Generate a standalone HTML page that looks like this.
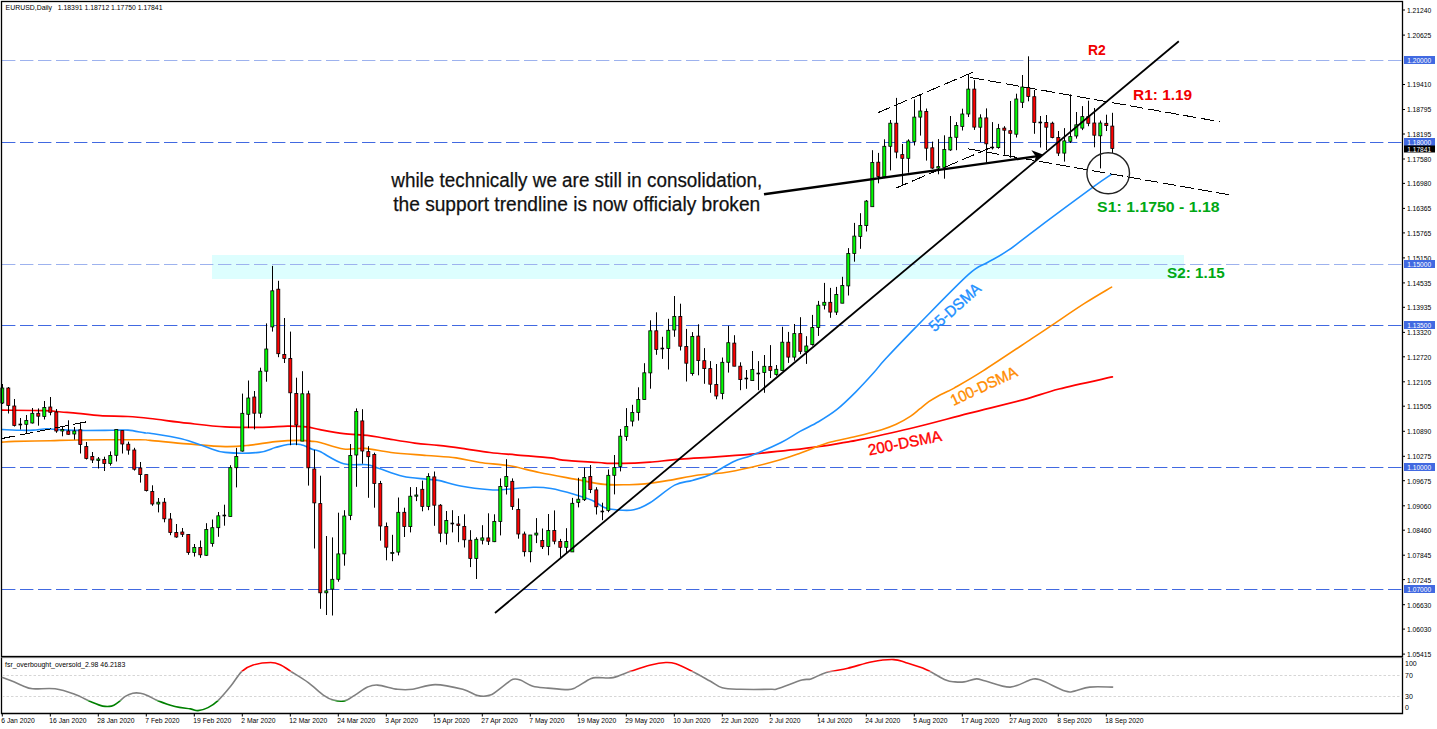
<!DOCTYPE html><html><head><meta charset="utf-8"><style>html,body{margin:0;padding:0;background:#fff;font-family:"Liberation Sans",sans-serif;}svg{display:block}</style></head><body>
<svg width="1437" height="729" viewBox="0 0 1437 729" font-family="&quot;Liberation Sans&quot;, sans-serif">
<rect x="0" y="0" width="1437" height="729" fill="#fff"/>
<rect x="212" y="255" width="972" height="24" fill="#ddfefe"/>
<line x1="2" y1="60.5" x2="1402" y2="60.5" stroke="#9db2ee" stroke-width="1" stroke-dasharray="13.4 4.6"/>
<line x1="2" y1="142.5" x2="1402" y2="142.5" stroke="#4169e1" stroke-width="1" stroke-dasharray="13.4 4.6"/>
<line x1="2" y1="264.5" x2="1402" y2="264.5" stroke="#9db2ee" stroke-width="1" stroke-dasharray="13.4 4.6"/>
<line x1="2" y1="325.5" x2="1402" y2="325.5" stroke="#4169e1" stroke-width="1" stroke-dasharray="13.4 4.6"/>
<line x1="2" y1="467.5" x2="1402" y2="467.5" stroke="#4169e1" stroke-width="1" stroke-dasharray="13.4 4.6"/>
<line x1="2" y1="589.5" x2="1402" y2="589.5" stroke="#4169e1" stroke-width="1" stroke-dasharray="13.4 4.6"/>
<path d="M2.20,410.20 C9.25,410.27 34.67,410.30 44.50,410.60 C54.33,410.90 55.62,411.53 61.20,412.00 C66.78,412.47 71.50,412.80 78.00,413.40 C84.50,414.00 91.87,415.08 100.20,415.60 C108.53,416.12 119.70,416.02 128.00,416.50 C136.30,416.98 140.07,417.38 150.00,418.50 C159.93,419.62 175.07,421.80 187.60,423.20 C200.13,424.60 212.67,426.22 225.20,426.90 C237.73,427.58 252.37,427.43 262.80,427.30 C273.23,427.17 280.50,426.17 287.80,426.10 C295.10,426.03 301.23,426.30 306.60,426.90 C311.97,427.50 313.82,428.58 320.00,429.70 C326.18,430.82 335.82,432.65 343.70,433.60 C351.58,434.55 360.40,434.62 367.30,435.40 C374.20,436.18 377.20,437.02 385.10,438.30 C393.00,439.58 405.83,441.92 414.70,443.10 C423.57,444.28 430.42,444.52 438.30,445.40 C446.18,446.28 453.38,447.22 462.00,448.40 C470.62,449.58 481.08,451.43 490.00,452.50 C498.92,453.57 505.33,453.92 515.50,454.80 C525.67,455.68 543.12,456.92 551.00,457.80 C558.88,458.68 554.92,459.32 562.80,460.10 C570.68,460.88 590.40,461.95 598.30,462.50 C606.20,463.05 604.28,463.30 610.20,463.40 C616.12,463.50 627.17,463.30 633.80,463.10 C640.43,462.90 642.22,462.87 650.00,462.20 C657.78,461.53 669.50,459.98 680.50,459.10 C691.50,458.22 704.17,457.73 716.00,456.90 C727.83,456.07 739.67,455.18 751.50,454.10 C763.33,453.02 778.92,451.23 787.00,450.40 C795.08,449.57 795.33,449.63 800.00,449.10 C804.67,448.57 809.83,447.90 815.00,447.20 C820.17,446.50 826.00,445.70 831.00,444.90 C836.00,444.10 840.17,443.27 845.00,442.40 C849.83,441.53 848.45,442.18 860.00,439.70 C871.55,437.22 896.20,431.88 914.30,427.50 C932.40,423.12 950.52,418.00 968.60,413.40 C986.68,408.80 1007.73,403.97 1022.80,399.90 C1037.87,395.83 1044.07,392.83 1059.00,389.00 C1073.93,385.17 1103.50,378.92 1112.40,376.90" fill="none" stroke="#ff0000" stroke-width="1.7" stroke-linejoin="round" stroke-linecap="round"/>
<path d="M2.20,442.10 C4.25,441.98 6.52,441.63 14.50,441.40 C22.48,441.17 39.52,440.93 50.10,440.70 C60.68,440.47 63.15,440.17 78.00,440.00 C92.85,439.83 127.20,439.63 139.20,439.70 C151.20,439.77 141.93,439.70 150.00,440.40 C158.07,441.10 175.07,442.87 187.60,443.90 C200.13,444.93 214.75,446.40 225.20,446.60 C235.65,446.80 241.95,445.93 250.30,445.10 C258.65,444.27 266.95,442.38 275.30,441.60 C283.65,440.82 294.13,440.43 300.40,440.40 C306.67,440.37 309.63,441.05 312.90,441.40 C316.17,441.75 314.87,441.23 320.00,442.50 C325.13,443.77 336.20,448.02 343.70,449.00 C351.20,449.98 357.12,447.82 365.00,448.40 C372.88,448.98 380.75,451.32 391.00,452.50 C401.25,453.68 415.65,454.60 426.50,455.50 C437.35,456.40 447.18,456.73 456.10,457.90 C465.02,459.07 471.08,461.18 480.00,462.50 C488.92,463.82 499.73,464.13 509.60,465.80 C519.47,467.47 528.35,470.28 539.20,472.50 C550.05,474.72 563.85,477.12 574.70,479.10 C585.55,481.08 595.43,483.47 604.30,484.40 C613.17,485.33 621.12,484.78 627.90,484.70 C634.68,484.62 638.20,484.62 645.00,483.90 C651.80,483.18 659.82,481.88 668.70,480.40 C677.58,478.92 689.43,476.23 698.30,475.00 C707.17,473.77 713.03,474.28 721.90,473.00 C730.77,471.72 741.63,469.53 751.50,467.30 C761.37,465.07 773.22,461.87 781.10,459.60 C788.98,457.33 793.48,455.60 798.80,453.70 C804.12,451.80 807.65,450.13 813.00,448.20 C818.35,446.27 823.80,444.05 830.90,442.10 C838.00,440.15 847.13,438.57 855.60,436.50 C864.07,434.43 874.93,431.73 881.70,429.70 C888.47,427.67 891.37,426.57 896.20,424.30 C901.03,422.03 906.78,418.67 910.70,416.10 C914.62,413.53 916.68,411.30 919.70,408.90 C922.72,406.50 925.78,403.82 928.80,401.70 C931.82,399.58 934.80,397.87 937.80,396.20 C940.80,394.53 944.08,393.05 946.80,391.70 C949.52,390.35 948.07,391.57 954.10,388.10 C960.13,384.63 970.12,379.10 983.00,370.90 C995.88,362.70 1019.77,346.62 1031.40,338.90 C1043.03,331.18 1043.88,330.55 1052.80,324.60 C1061.72,318.65 1075.10,309.45 1084.90,303.20 C1094.70,296.95 1107.15,289.78 1111.60,287.10" fill="none" stroke="#ff8c00" stroke-width="1.6" stroke-linejoin="round" stroke-linecap="round"/>
<path d="M2.20,429.50 C5.55,429.63 17.10,430.20 22.30,430.30 C27.50,430.40 29.32,430.37 33.40,430.10 C37.48,429.83 43.08,428.80 46.80,428.70 C50.52,428.60 50.50,429.22 55.70,429.50 C60.90,429.78 68.72,430.27 78.00,430.40 C87.28,430.53 103.07,430.35 111.40,430.30 C119.73,430.25 122.43,429.67 128.00,430.10 C133.57,430.53 141.13,432.38 144.80,432.90 C148.47,433.42 143.92,432.22 150.00,433.20 C156.08,434.18 171.90,436.50 181.30,438.80 C190.70,441.10 199.08,444.73 206.40,447.00 C213.72,449.27 216.43,451.50 225.20,452.40 C233.97,453.30 250.65,453.20 259.00,452.40 C267.35,451.60 270.50,448.92 275.30,447.60 C280.10,446.28 283.62,445.02 287.80,444.50 C291.98,443.98 296.22,443.67 300.40,444.50 C304.58,445.33 309.63,448.32 312.90,449.50 C316.17,450.68 314.87,449.22 320.00,451.60 C325.13,453.98 335.82,461.62 343.70,463.80 C351.58,465.98 361.38,463.92 367.30,464.70 C373.22,465.48 373.28,466.58 379.20,468.50 C385.12,470.42 394.92,474.42 402.80,476.20 C410.68,477.98 420.58,478.50 426.50,479.20 C432.42,479.90 432.38,479.22 438.30,480.40 C444.22,481.58 453.38,484.73 462.00,486.30 C470.62,487.87 483.45,489.23 490.00,489.80 C496.55,490.37 494.08,490.12 501.30,489.70 C508.52,489.28 525.02,487.50 533.30,487.30 C541.58,487.10 544.10,487.32 551.00,488.50 C557.90,489.68 567.80,492.42 574.70,494.40 C581.60,496.38 587.47,498.22 592.40,500.40 C597.33,502.58 600.35,505.93 604.30,507.50 C608.25,509.07 611.18,509.42 616.10,509.80 C621.02,510.18 628.15,510.98 633.80,509.80 C639.45,508.62 643.20,506.82 650.00,502.70 C656.80,498.58 667.55,488.82 674.60,485.10 C681.65,481.38 686.38,482.13 692.30,480.40 C698.22,478.67 703.18,477.87 710.10,474.70 C717.02,471.53 726.90,464.60 733.80,461.40 C740.70,458.20 743.62,458.65 751.50,455.50 C759.38,452.35 773.02,446.52 781.10,442.50 C789.18,438.48 793.77,434.87 800.00,431.40 C806.23,427.93 812.33,425.37 818.50,421.70 C824.67,418.03 830.82,414.33 837.00,409.40 C843.18,404.47 849.42,398.28 855.60,392.10 C861.78,385.92 869.13,377.82 874.10,372.30 C879.07,366.78 877.73,367.23 885.40,359.00 C893.07,350.77 906.28,336.95 920.10,322.90 C933.92,308.85 957.15,284.73 968.30,274.70 C979.45,264.67 980.32,266.78 987.00,262.70 C993.68,258.62 998.13,257.35 1008.40,250.20 C1018.67,243.05 1034.33,230.43 1048.60,219.80 C1062.87,209.17 1083.53,193.97 1094.00,186.40 C1104.47,178.83 1108.50,176.40 1111.40,174.40" fill="none" stroke="#1e90ff" stroke-width="1.6" stroke-linejoin="round" stroke-linecap="round"/>
<line x1="2.50" y1="384.0" x2="2.50" y2="404.0" stroke="#000" stroke-width="1"/>
<rect x="0.80" y="388.0" width="3" height="15.00" fill="#00ff00" stroke="#000" stroke-width="0.8"/>
<line x1="8.50" y1="387.0" x2="8.50" y2="413.5" stroke="#000" stroke-width="1"/>
<rect x="6.80" y="388.0" width="3" height="17.50" fill="#ff0000" stroke="#000" stroke-width="0.8"/>
<line x1="14.50" y1="399.0" x2="14.50" y2="426.5" stroke="#000" stroke-width="1"/>
<rect x="12.80" y="406.0" width="3" height="19.50" fill="#ff0000" stroke="#000" stroke-width="0.8"/>
<line x1="20.50" y1="418.0" x2="20.50" y2="429.5" stroke="#000" stroke-width="1"/>
<line x1="18.50" y1="424.5" x2="22.10" y2="424.5" stroke="#000" stroke-width="1.6"/>
<line x1="26.50" y1="415.0" x2="26.50" y2="434.0" stroke="#000" stroke-width="1"/>
<rect x="24.80" y="420.5" width="3" height="3.80" fill="#00ff00" stroke="#000" stroke-width="0.8"/>
<line x1="32.50" y1="408.0" x2="32.50" y2="423.5" stroke="#000" stroke-width="1"/>
<rect x="30.80" y="413.3" width="3" height="9.70" fill="#00ff00" stroke="#000" stroke-width="0.8"/>
<line x1="38.50" y1="408.4" x2="38.50" y2="425.7" stroke="#000" stroke-width="1"/>
<rect x="36.80" y="413.3" width="3" height="2.90" fill="#ff0000" stroke="#000" stroke-width="0.8"/>
<line x1="44.50" y1="401.0" x2="44.50" y2="419.5" stroke="#000" stroke-width="1"/>
<rect x="42.80" y="407.5" width="3" height="9.00" fill="#00ff00" stroke="#000" stroke-width="0.8"/>
<line x1="50.50" y1="397.0" x2="50.50" y2="415.3" stroke="#000" stroke-width="1"/>
<rect x="48.80" y="407.0" width="3" height="5.30" fill="#ff0000" stroke="#000" stroke-width="0.8"/>
<line x1="56.50" y1="409.0" x2="56.50" y2="432.8" stroke="#000" stroke-width="1"/>
<rect x="54.80" y="412.0" width="3" height="19.00" fill="#ff0000" stroke="#000" stroke-width="0.8"/>
<line x1="62.50" y1="426.3" x2="62.50" y2="436.3" stroke="#000" stroke-width="1"/>
<rect x="60.80" y="429.5" width="3" height="1.50" fill="#00ff00" stroke="#000" stroke-width="0.8"/>
<line x1="68.50" y1="420.3" x2="68.50" y2="434.7" stroke="#000" stroke-width="1"/>
<rect x="66.80" y="431.0" width="3" height="3.30" fill="#ff0000" stroke="#000" stroke-width="0.8"/>
<line x1="74.50" y1="427.0" x2="74.50" y2="439.6" stroke="#000" stroke-width="1"/>
<rect x="72.80" y="431.0" width="3" height="3.00" fill="#00ff00" stroke="#000" stroke-width="0.8"/>
<line x1="80.50" y1="423.2" x2="80.50" y2="453.5" stroke="#000" stroke-width="1"/>
<rect x="78.80" y="429.8" width="3" height="14.70" fill="#ff0000" stroke="#000" stroke-width="0.8"/>
<line x1="86.50" y1="442.0" x2="86.50" y2="459.5" stroke="#000" stroke-width="1"/>
<rect x="84.80" y="446.5" width="3" height="12.00" fill="#ff0000" stroke="#000" stroke-width="0.8"/>
<line x1="92.50" y1="452.0" x2="92.50" y2="463.0" stroke="#000" stroke-width="1"/>
<rect x="90.80" y="456.5" width="3" height="3.50" fill="#ff0000" stroke="#000" stroke-width="0.8"/>
<line x1="98.50" y1="457.0" x2="98.50" y2="468.5" stroke="#000" stroke-width="1"/>
<rect x="96.80" y="459.0" width="3" height="1.50" fill="#00ff00" stroke="#000" stroke-width="0.8"/>
<line x1="104.50" y1="456.7" x2="104.50" y2="471.0" stroke="#000" stroke-width="1"/>
<rect x="102.80" y="459.4" width="3" height="4.10" fill="#ff0000" stroke="#000" stroke-width="0.8"/>
<line x1="110.50" y1="451.4" x2="110.50" y2="465.6" stroke="#000" stroke-width="1"/>
<rect x="108.80" y="455.5" width="3" height="8.00" fill="#00ff00" stroke="#000" stroke-width="0.8"/>
<line x1="116.50" y1="429.1" x2="116.50" y2="461.5" stroke="#000" stroke-width="1"/>
<rect x="114.80" y="429.4" width="3" height="25.90" fill="#00ff00" stroke="#000" stroke-width="0.8"/>
<line x1="122.50" y1="430.6" x2="122.50" y2="453.5" stroke="#000" stroke-width="1"/>
<rect x="120.80" y="430.6" width="3" height="13.40" fill="#ff0000" stroke="#000" stroke-width="0.8"/>
<line x1="128.50" y1="441.7" x2="128.50" y2="454.7" stroke="#000" stroke-width="1"/>
<rect x="126.80" y="444.2" width="3" height="5.90" fill="#ff0000" stroke="#000" stroke-width="0.8"/>
<line x1="134.50" y1="447.8" x2="134.50" y2="470.6" stroke="#000" stroke-width="1"/>
<rect x="132.80" y="450.0" width="3" height="19.20" fill="#ff0000" stroke="#000" stroke-width="0.8"/>
<line x1="140.50" y1="462.0" x2="140.50" y2="482.6" stroke="#000" stroke-width="1"/>
<rect x="138.80" y="468.0" width="3" height="6.60" fill="#ff0000" stroke="#000" stroke-width="0.8"/>
<line x1="146.50" y1="474.6" x2="146.50" y2="491.5" stroke="#000" stroke-width="1"/>
<rect x="144.80" y="474.6" width="3" height="16.00" fill="#ff0000" stroke="#000" stroke-width="0.8"/>
<line x1="152.50" y1="485.3" x2="152.50" y2="505.8" stroke="#000" stroke-width="1"/>
<rect x="150.80" y="491.5" width="3" height="12.50" fill="#ff0000" stroke="#000" stroke-width="0.8"/>
<line x1="158.50" y1="498.0" x2="158.50" y2="512.4" stroke="#000" stroke-width="1"/>
<rect x="156.80" y="502.2" width="3" height="1.80" fill="#00ff00" stroke="#000" stroke-width="0.8"/>
<line x1="164.50" y1="498.0" x2="164.50" y2="522.3" stroke="#000" stroke-width="1"/>
<rect x="162.80" y="502.2" width="3" height="16.60" fill="#ff0000" stroke="#000" stroke-width="0.8"/>
<line x1="170.50" y1="513.0" x2="170.50" y2="535.2" stroke="#000" stroke-width="1"/>
<rect x="168.80" y="519.0" width="3" height="13.50" fill="#ff0000" stroke="#000" stroke-width="0.8"/>
<line x1="176.50" y1="524.0" x2="176.50" y2="537.8" stroke="#000" stroke-width="1"/>
<rect x="174.80" y="532.5" width="3" height="4.50" fill="#ff0000" stroke="#000" stroke-width="0.8"/>
<line x1="182.50" y1="528.0" x2="182.50" y2="537.0" stroke="#000" stroke-width="1"/>
<rect x="180.80" y="532.0" width="3" height="2.30" fill="#ff0000" stroke="#000" stroke-width="0.8"/>
<line x1="188.50" y1="534.3" x2="188.50" y2="554.8" stroke="#000" stroke-width="1"/>
<rect x="186.80" y="534.6" width="3" height="18.00" fill="#ff0000" stroke="#000" stroke-width="0.8"/>
<line x1="194.50" y1="544.0" x2="194.50" y2="556.6" stroke="#000" stroke-width="1"/>
<rect x="192.80" y="547.5" width="3" height="5.10" fill="#00ff00" stroke="#000" stroke-width="0.8"/>
<line x1="200.50" y1="540.5" x2="200.50" y2="557.8" stroke="#000" stroke-width="1"/>
<rect x="198.80" y="547.4" width="3" height="7.40" fill="#ff0000" stroke="#000" stroke-width="0.8"/>
<line x1="206.50" y1="523.2" x2="206.50" y2="555.8" stroke="#000" stroke-width="1"/>
<rect x="204.80" y="529.4" width="3" height="25.90" fill="#00ff00" stroke="#000" stroke-width="0.8"/>
<line x1="212.50" y1="519.5" x2="212.50" y2="546.7" stroke="#000" stroke-width="1"/>
<rect x="210.80" y="527.7" width="3" height="15.80" fill="#00ff00" stroke="#000" stroke-width="0.8"/>
<line x1="218.50" y1="512.0" x2="218.50" y2="536.8" stroke="#000" stroke-width="1"/>
<rect x="216.80" y="515.8" width="3" height="11.90" fill="#00ff00" stroke="#000" stroke-width="0.8"/>
<line x1="224.50" y1="504.7" x2="224.50" y2="525.7" stroke="#000" stroke-width="1"/>
<line x1="222.50" y1="515.5" x2="226.10" y2="515.5" stroke="#000" stroke-width="1.6"/>
<line x1="230.50" y1="465.2" x2="230.50" y2="516.5" stroke="#000" stroke-width="1"/>
<rect x="228.80" y="467.7" width="3" height="48.80" fill="#00ff00" stroke="#000" stroke-width="0.8"/>
<line x1="236.50" y1="447.9" x2="236.50" y2="487.4" stroke="#000" stroke-width="1"/>
<rect x="234.80" y="456.5" width="3" height="11.20" fill="#00ff00" stroke="#000" stroke-width="0.8"/>
<line x1="242.50" y1="393.6" x2="242.50" y2="451.6" stroke="#000" stroke-width="1"/>
<rect x="240.80" y="413.3" width="3" height="37.80" fill="#00ff00" stroke="#000" stroke-width="0.8"/>
<line x1="248.50" y1="380.5" x2="248.50" y2="428.1" stroke="#000" stroke-width="1"/>
<rect x="246.80" y="398.0" width="3" height="16.30" fill="#00ff00" stroke="#000" stroke-width="0.8"/>
<line x1="254.50" y1="391.0" x2="254.50" y2="429.4" stroke="#000" stroke-width="1"/>
<rect x="252.80" y="397.0" width="3" height="16.20" fill="#ff0000" stroke="#000" stroke-width="0.8"/>
<line x1="260.50" y1="367.7" x2="260.50" y2="417.8" stroke="#000" stroke-width="1"/>
<rect x="258.80" y="371.2" width="3" height="42.00" fill="#00ff00" stroke="#000" stroke-width="0.8"/>
<line x1="266.50" y1="323.4" x2="266.50" y2="381.7" stroke="#000" stroke-width="1"/>
<rect x="264.80" y="349.0" width="3" height="22.20" fill="#00ff00" stroke="#000" stroke-width="0.8"/>
<line x1="272.50" y1="265.9" x2="272.50" y2="331.6" stroke="#000" stroke-width="1"/>
<rect x="270.80" y="290.8" width="3" height="36.10" fill="#00ff00" stroke="#000" stroke-width="0.8"/>
<line x1="278.50" y1="280.8" x2="278.50" y2="357.2" stroke="#000" stroke-width="1"/>
<rect x="276.80" y="289.2" width="3" height="64.50" fill="#ff0000" stroke="#000" stroke-width="0.8"/>
<line x1="284.50" y1="318.0" x2="284.50" y2="363.0" stroke="#000" stroke-width="1"/>
<rect x="282.80" y="354.4" width="3" height="4.00" fill="#ff0000" stroke="#000" stroke-width="0.8"/>
<line x1="290.50" y1="331.6" x2="290.50" y2="445.2" stroke="#000" stroke-width="1"/>
<rect x="288.80" y="358.4" width="3" height="34.40" fill="#ff0000" stroke="#000" stroke-width="0.8"/>
<line x1="296.50" y1="377.7" x2="296.50" y2="445.2" stroke="#000" stroke-width="1"/>
<rect x="294.80" y="393.4" width="3" height="31.60" fill="#ff0000" stroke="#000" stroke-width="0.8"/>
<line x1="302.50" y1="371.2" x2="302.50" y2="441.1" stroke="#000" stroke-width="1"/>
<rect x="300.80" y="393.8" width="3" height="47.30" fill="#00ff00" stroke="#000" stroke-width="0.8"/>
<line x1="308.50" y1="390.7" x2="308.50" y2="485.6" stroke="#000" stroke-width="1"/>
<rect x="306.80" y="393.8" width="3" height="74.00" fill="#ff0000" stroke="#000" stroke-width="0.8"/>
<line x1="314.50" y1="449.9" x2="314.50" y2="548.5" stroke="#000" stroke-width="1"/>
<rect x="312.80" y="469.0" width="3" height="33.90" fill="#ff0000" stroke="#000" stroke-width="0.8"/>
<line x1="320.50" y1="475.7" x2="320.50" y2="608.8" stroke="#000" stroke-width="1"/>
<rect x="318.80" y="503.6" width="3" height="89.20" fill="#ff0000" stroke="#000" stroke-width="0.8"/>
<line x1="326.50" y1="536.0" x2="326.50" y2="615.0" stroke="#000" stroke-width="1"/>
<rect x="324.80" y="590.9" width="3" height="1.90" fill="#00ff00" stroke="#000" stroke-width="0.8"/>
<line x1="332.50" y1="537.4" x2="332.50" y2="615.5" stroke="#000" stroke-width="1"/>
<rect x="330.80" y="579.3" width="3" height="9.80" fill="#00ff00" stroke="#000" stroke-width="0.8"/>
<line x1="338.50" y1="512.7" x2="338.50" y2="581.7" stroke="#000" stroke-width="1"/>
<rect x="336.80" y="553.9" width="3" height="25.40" fill="#00ff00" stroke="#000" stroke-width="0.8"/>
<line x1="344.50" y1="510.2" x2="344.50" y2="565.7" stroke="#000" stroke-width="1"/>
<rect x="342.80" y="516.0" width="3" height="37.90" fill="#00ff00" stroke="#000" stroke-width="0.8"/>
<line x1="350.50" y1="444.0" x2="350.50" y2="520.1" stroke="#000" stroke-width="1"/>
<rect x="348.80" y="455.4" width="3" height="60.00" fill="#00ff00" stroke="#000" stroke-width="0.8"/>
<line x1="356.50" y1="408.4" x2="356.50" y2="486.8" stroke="#000" stroke-width="1"/>
<rect x="354.80" y="411.4" width="3" height="43.60" fill="#00ff00" stroke="#000" stroke-width="0.8"/>
<line x1="362.50" y1="409.2" x2="362.50" y2="463.7" stroke="#000" stroke-width="1"/>
<rect x="360.80" y="420.9" width="3" height="30.10" fill="#ff0000" stroke="#000" stroke-width="0.8"/>
<line x1="368.50" y1="446.2" x2="368.50" y2="497.8" stroke="#000" stroke-width="1"/>
<rect x="366.80" y="451.6" width="3" height="5.10" fill="#ff0000" stroke="#000" stroke-width="0.8"/>
<line x1="374.50" y1="452.7" x2="374.50" y2="507.7" stroke="#000" stroke-width="1"/>
<rect x="372.80" y="454.5" width="3" height="29.00" fill="#ff0000" stroke="#000" stroke-width="0.8"/>
<line x1="380.50" y1="480.9" x2="380.50" y2="540.7" stroke="#000" stroke-width="1"/>
<rect x="378.80" y="483.5" width="3" height="42.50" fill="#ff0000" stroke="#000" stroke-width="0.8"/>
<line x1="386.50" y1="522.5" x2="386.50" y2="560.3" stroke="#000" stroke-width="1"/>
<rect x="384.80" y="526.5" width="3" height="20.70" fill="#ff0000" stroke="#000" stroke-width="0.8"/>
<line x1="392.50" y1="534.8" x2="392.50" y2="561.2" stroke="#000" stroke-width="1"/>
<rect x="390.80" y="552.4" width="3" height="1.00" fill="#00ff00" stroke="#000" stroke-width="0.8"/>
<line x1="398.50" y1="497.5" x2="398.50" y2="555.4" stroke="#000" stroke-width="1"/>
<rect x="396.80" y="512.3" width="3" height="39.80" fill="#00ff00" stroke="#000" stroke-width="0.8"/>
<line x1="404.50" y1="507.7" x2="404.50" y2="537.0" stroke="#000" stroke-width="1"/>
<rect x="402.80" y="512.3" width="3" height="14.30" fill="#ff0000" stroke="#000" stroke-width="0.8"/>
<line x1="410.50" y1="487.1" x2="410.50" y2="532.4" stroke="#000" stroke-width="1"/>
<rect x="408.80" y="496.2" width="3" height="30.40" fill="#00ff00" stroke="#000" stroke-width="0.8"/>
<line x1="416.50" y1="487.1" x2="416.50" y2="501.1" stroke="#000" stroke-width="1"/>
<rect x="414.80" y="495.0" width="3" height="1.20" fill="#00ff00" stroke="#000" stroke-width="0.8"/>
<line x1="422.50" y1="480.6" x2="422.50" y2="511.3" stroke="#000" stroke-width="1"/>
<rect x="420.80" y="489.3" width="3" height="17.10" fill="#ff0000" stroke="#000" stroke-width="0.8"/>
<line x1="428.50" y1="473.2" x2="428.50" y2="510.2" stroke="#000" stroke-width="1"/>
<rect x="426.80" y="476.4" width="3" height="30.00" fill="#00ff00" stroke="#000" stroke-width="0.8"/>
<line x1="434.50" y1="471.5" x2="434.50" y2="525.8" stroke="#000" stroke-width="1"/>
<rect x="432.80" y="476.9" width="3" height="28.30" fill="#ff0000" stroke="#000" stroke-width="0.8"/>
<line x1="440.50" y1="504.1" x2="440.50" y2="542.2" stroke="#000" stroke-width="1"/>
<rect x="438.80" y="505.2" width="3" height="28.00" fill="#ff0000" stroke="#000" stroke-width="0.8"/>
<line x1="446.50" y1="511.0" x2="446.50" y2="544.7" stroke="#000" stroke-width="1"/>
<rect x="444.80" y="520.5" width="3" height="12.70" fill="#00ff00" stroke="#000" stroke-width="0.8"/>
<line x1="452.50" y1="510.2" x2="452.50" y2="532.4" stroke="#000" stroke-width="1"/>
<line x1="450.50" y1="523.5" x2="454.10" y2="523.5" stroke="#000" stroke-width="1.6"/>
<line x1="458.50" y1="516.0" x2="458.50" y2="542.2" stroke="#000" stroke-width="1"/>
<rect x="456.80" y="524.0" width="3" height="1.50" fill="#ff0000" stroke="#000" stroke-width="0.8"/>
<line x1="464.50" y1="514.3" x2="464.50" y2="547.5" stroke="#000" stroke-width="1"/>
<rect x="462.80" y="526.4" width="3" height="13.40" fill="#ff0000" stroke="#000" stroke-width="0.8"/>
<line x1="470.50" y1="530.2" x2="470.50" y2="567.1" stroke="#000" stroke-width="1"/>
<rect x="468.80" y="540.2" width="3" height="18.20" fill="#ff0000" stroke="#000" stroke-width="0.8"/>
<line x1="476.50" y1="537.3" x2="476.50" y2="579.0" stroke="#000" stroke-width="1"/>
<rect x="474.80" y="539.3" width="3" height="19.10" fill="#00ff00" stroke="#000" stroke-width="0.8"/>
<line x1="482.50" y1="525.2" x2="482.50" y2="544.4" stroke="#000" stroke-width="1"/>
<rect x="480.80" y="537.9" width="3" height="2.30" fill="#00ff00" stroke="#000" stroke-width="0.8"/>
<line x1="488.50" y1="513.3" x2="488.50" y2="545.0" stroke="#000" stroke-width="1"/>
<rect x="486.80" y="537.9" width="3" height="3.30" fill="#ff0000" stroke="#000" stroke-width="0.8"/>
<line x1="494.50" y1="514.3" x2="494.50" y2="542.1" stroke="#000" stroke-width="1"/>
<rect x="492.80" y="521.4" width="3" height="20.30" fill="#00ff00" stroke="#000" stroke-width="0.8"/>
<line x1="500.50" y1="478.4" x2="500.50" y2="535.4" stroke="#000" stroke-width="1"/>
<rect x="498.80" y="486.5" width="3" height="34.90" fill="#00ff00" stroke="#000" stroke-width="0.8"/>
<line x1="506.50" y1="459.2" x2="506.50" y2="494.5" stroke="#000" stroke-width="1"/>
<rect x="504.80" y="476.5" width="3" height="10.00" fill="#00ff00" stroke="#000" stroke-width="0.8"/>
<line x1="512.50" y1="478.4" x2="512.50" y2="509.9" stroke="#000" stroke-width="1"/>
<rect x="510.80" y="481.3" width="3" height="25.30" fill="#ff0000" stroke="#000" stroke-width="0.8"/>
<line x1="518.50" y1="498.4" x2="518.50" y2="538.7" stroke="#000" stroke-width="1"/>
<rect x="516.80" y="509.5" width="3" height="24.50" fill="#ff0000" stroke="#000" stroke-width="0.8"/>
<line x1="524.50" y1="531.6" x2="524.50" y2="556.5" stroke="#000" stroke-width="1"/>
<rect x="522.80" y="534.0" width="3" height="17.70" fill="#ff0000" stroke="#000" stroke-width="0.8"/>
<line x1="530.50" y1="535.0" x2="530.50" y2="562.3" stroke="#000" stroke-width="1"/>
<rect x="528.80" y="535.0" width="3" height="16.70" fill="#00ff00" stroke="#000" stroke-width="0.8"/>
<line x1="536.50" y1="518.1" x2="536.50" y2="543.1" stroke="#000" stroke-width="1"/>
<rect x="534.80" y="533.1" width="3" height="1.90" fill="#00ff00" stroke="#000" stroke-width="0.8"/>
<line x1="542.50" y1="528.5" x2="542.50" y2="549.0" stroke="#000" stroke-width="1"/>
<rect x="540.80" y="540.5" width="3" height="6.20" fill="#ff0000" stroke="#000" stroke-width="0.8"/>
<line x1="548.50" y1="514.0" x2="548.50" y2="555.3" stroke="#000" stroke-width="1"/>
<rect x="546.80" y="530.6" width="3" height="15.90" fill="#00ff00" stroke="#000" stroke-width="0.8"/>
<line x1="554.50" y1="510.4" x2="554.50" y2="544.3" stroke="#000" stroke-width="1"/>
<rect x="552.80" y="530.6" width="3" height="10.60" fill="#ff0000" stroke="#000" stroke-width="0.8"/>
<line x1="560.50" y1="538.9" x2="560.50" y2="557.6" stroke="#000" stroke-width="1"/>
<rect x="558.80" y="541.6" width="3" height="5.70" fill="#ff0000" stroke="#000" stroke-width="0.8"/>
<line x1="566.50" y1="528.2" x2="566.50" y2="553.2" stroke="#000" stroke-width="1"/>
<rect x="564.80" y="541.6" width="3" height="5.70" fill="#00ff00" stroke="#000" stroke-width="0.8"/>
<line x1="572.50" y1="497.9" x2="572.50" y2="551.9" stroke="#000" stroke-width="1"/>
<rect x="570.80" y="503.3" width="3" height="48.60" fill="#00ff00" stroke="#000" stroke-width="0.8"/>
<line x1="578.50" y1="477.8" x2="578.50" y2="507.4" stroke="#000" stroke-width="1"/>
<rect x="576.80" y="499.2" width="3" height="3.20" fill="#00ff00" stroke="#000" stroke-width="0.8"/>
<line x1="584.50" y1="467.6" x2="584.50" y2="501.0" stroke="#000" stroke-width="1"/>
<rect x="582.80" y="477.4" width="3" height="22.30" fill="#00ff00" stroke="#000" stroke-width="0.8"/>
<line x1="590.50" y1="465.0" x2="590.50" y2="493.1" stroke="#000" stroke-width="1"/>
<rect x="588.80" y="476.5" width="3" height="13.10" fill="#ff0000" stroke="#000" stroke-width="0.8"/>
<line x1="596.50" y1="487.2" x2="596.50" y2="514.5" stroke="#000" stroke-width="1"/>
<rect x="594.80" y="489.9" width="3" height="16.90" fill="#ff0000" stroke="#000" stroke-width="0.8"/>
<line x1="602.50" y1="502.7" x2="602.50" y2="520.2" stroke="#000" stroke-width="1"/>
<line x1="600.50" y1="511.5" x2="604.10" y2="511.5" stroke="#000" stroke-width="1.6"/>
<line x1="608.50" y1="469.4" x2="608.50" y2="512.2" stroke="#000" stroke-width="1"/>
<rect x="606.80" y="475.3" width="3" height="35.10" fill="#00ff00" stroke="#000" stroke-width="0.8"/>
<line x1="614.50" y1="455.0" x2="614.50" y2="494.4" stroke="#000" stroke-width="1"/>
<rect x="612.80" y="467.6" width="3" height="7.70" fill="#00ff00" stroke="#000" stroke-width="0.8"/>
<line x1="620.50" y1="429.0" x2="620.50" y2="471.4" stroke="#000" stroke-width="1"/>
<rect x="618.80" y="436.2" width="3" height="30.20" fill="#00ff00" stroke="#000" stroke-width="0.8"/>
<line x1="626.50" y1="408.1" x2="626.50" y2="440.8" stroke="#000" stroke-width="1"/>
<rect x="624.80" y="426.4" width="3" height="10.10" fill="#00ff00" stroke="#000" stroke-width="0.8"/>
<line x1="632.50" y1="404.8" x2="632.50" y2="426.4" stroke="#000" stroke-width="1"/>
<rect x="630.80" y="412.4" width="3" height="8.70" fill="#00ff00" stroke="#000" stroke-width="0.8"/>
<line x1="638.50" y1="387.3" x2="638.50" y2="420.6" stroke="#000" stroke-width="1"/>
<rect x="636.80" y="399.5" width="3" height="12.90" fill="#00ff00" stroke="#000" stroke-width="0.8"/>
<line x1="644.50" y1="363.2" x2="644.50" y2="399.5" stroke="#000" stroke-width="1"/>
<rect x="642.80" y="372.8" width="3" height="26.70" fill="#00ff00" stroke="#000" stroke-width="0.8"/>
<line x1="650.50" y1="320.3" x2="650.50" y2="388.7" stroke="#000" stroke-width="1"/>
<rect x="648.80" y="330.8" width="3" height="42.10" fill="#00ff00" stroke="#000" stroke-width="0.8"/>
<line x1="656.50" y1="312.3" x2="656.50" y2="354.8" stroke="#000" stroke-width="1"/>
<rect x="654.80" y="330.8" width="3" height="18.60" fill="#ff0000" stroke="#000" stroke-width="0.8"/>
<line x1="662.50" y1="336.8" x2="662.50" y2="358.9" stroke="#000" stroke-width="1"/>
<line x1="660.50" y1="348.5" x2="664.10" y2="348.5" stroke="#000" stroke-width="1.6"/>
<line x1="668.50" y1="318.8" x2="668.50" y2="369.5" stroke="#000" stroke-width="1"/>
<rect x="666.80" y="330.3" width="3" height="18.10" fill="#00ff00" stroke="#000" stroke-width="0.8"/>
<line x1="674.50" y1="296.0" x2="674.50" y2="336.8" stroke="#000" stroke-width="1"/>
<rect x="672.80" y="316.4" width="3" height="13.60" fill="#00ff00" stroke="#000" stroke-width="0.8"/>
<line x1="680.50" y1="303.7" x2="680.50" y2="350.5" stroke="#000" stroke-width="1"/>
<rect x="678.80" y="316.4" width="3" height="29.80" fill="#ff0000" stroke="#000" stroke-width="0.8"/>
<line x1="686.50" y1="328.9" x2="686.50" y2="381.5" stroke="#000" stroke-width="1"/>
<rect x="684.80" y="346.5" width="3" height="16.70" fill="#ff0000" stroke="#000" stroke-width="0.8"/>
<line x1="692.50" y1="332.1" x2="692.50" y2="375.7" stroke="#000" stroke-width="1"/>
<rect x="690.80" y="336.5" width="3" height="37.10" fill="#00ff00" stroke="#000" stroke-width="0.8"/>
<line x1="698.50" y1="324.3" x2="698.50" y2="375.3" stroke="#000" stroke-width="1"/>
<rect x="696.80" y="336.1" width="3" height="24.50" fill="#ff0000" stroke="#000" stroke-width="0.8"/>
<line x1="704.50" y1="348.1" x2="704.50" y2="383.8" stroke="#000" stroke-width="1"/>
<rect x="702.80" y="360.7" width="3" height="7.90" fill="#ff0000" stroke="#000" stroke-width="0.8"/>
<line x1="710.50" y1="361.1" x2="710.50" y2="392.8" stroke="#000" stroke-width="1"/>
<rect x="708.80" y="368.6" width="3" height="15.60" fill="#ff0000" stroke="#000" stroke-width="0.8"/>
<line x1="716.50" y1="364.0" x2="716.50" y2="399.3" stroke="#000" stroke-width="1"/>
<rect x="714.80" y="384.5" width="3" height="11.50" fill="#ff0000" stroke="#000" stroke-width="0.8"/>
<line x1="722.50" y1="357.5" x2="722.50" y2="399.3" stroke="#000" stroke-width="1"/>
<rect x="720.80" y="362.3" width="3" height="31.20" fill="#00ff00" stroke="#000" stroke-width="0.8"/>
<line x1="728.50" y1="325.8" x2="728.50" y2="372.6" stroke="#000" stroke-width="1"/>
<rect x="726.80" y="342.7" width="3" height="19.60" fill="#00ff00" stroke="#000" stroke-width="0.8"/>
<line x1="734.50" y1="335.2" x2="734.50" y2="366.2" stroke="#000" stroke-width="1"/>
<rect x="732.80" y="343.1" width="3" height="23.10" fill="#ff0000" stroke="#000" stroke-width="0.8"/>
<line x1="740.50" y1="362.3" x2="740.50" y2="390.2" stroke="#000" stroke-width="1"/>
<rect x="738.80" y="366.2" width="3" height="13.40" fill="#ff0000" stroke="#000" stroke-width="0.8"/>
<line x1="746.50" y1="370.0" x2="746.50" y2="388.8" stroke="#000" stroke-width="1"/>
<line x1="744.50" y1="378.5" x2="748.10" y2="378.5" stroke="#000" stroke-width="1.6"/>
<line x1="752.50" y1="351.0" x2="752.50" y2="380.6" stroke="#000" stroke-width="1"/>
<rect x="750.80" y="369.5" width="3" height="11.10" fill="#00ff00" stroke="#000" stroke-width="0.8"/>
<line x1="758.50" y1="361.1" x2="758.50" y2="390.2" stroke="#000" stroke-width="1"/>
<line x1="756.50" y1="373.5" x2="760.10" y2="373.5" stroke="#000" stroke-width="1.6"/>
<line x1="764.50" y1="355.0" x2="764.50" y2="392.8" stroke="#000" stroke-width="1"/>
<rect x="762.80" y="366.3" width="3" height="6.20" fill="#00ff00" stroke="#000" stroke-width="0.8"/>
<line x1="770.50" y1="345.1" x2="770.50" y2="378.0" stroke="#000" stroke-width="1"/>
<rect x="768.80" y="366.5" width="3" height="4.00" fill="#ff0000" stroke="#000" stroke-width="0.8"/>
<line x1="776.50" y1="365.0" x2="776.50" y2="375.8" stroke="#000" stroke-width="1"/>
<rect x="774.80" y="369.3" width="3" height="5.10" fill="#00ff00" stroke="#000" stroke-width="0.8"/>
<line x1="782.50" y1="326.8" x2="782.50" y2="370.5" stroke="#000" stroke-width="1"/>
<rect x="780.80" y="342.2" width="3" height="28.30" fill="#00ff00" stroke="#000" stroke-width="0.8"/>
<line x1="788.50" y1="331.9" x2="788.50" y2="362.9" stroke="#000" stroke-width="1"/>
<rect x="786.80" y="342.2" width="3" height="14.90" fill="#ff0000" stroke="#000" stroke-width="0.8"/>
<line x1="794.50" y1="324.0" x2="794.50" y2="360.7" stroke="#000" stroke-width="1"/>
<rect x="792.80" y="333.6" width="3" height="23.50" fill="#00ff00" stroke="#000" stroke-width="0.8"/>
<line x1="800.50" y1="317.2" x2="800.50" y2="354.2" stroke="#000" stroke-width="1"/>
<rect x="798.80" y="333.6" width="3" height="17.70" fill="#ff0000" stroke="#000" stroke-width="0.8"/>
<line x1="806.50" y1="336.2" x2="806.50" y2="363.9" stroke="#000" stroke-width="1"/>
<rect x="804.80" y="346.0" width="3" height="5.80" fill="#00ff00" stroke="#000" stroke-width="0.8"/>
<line x1="812.50" y1="314.9" x2="812.50" y2="345.6" stroke="#000" stroke-width="1"/>
<rect x="810.80" y="327.5" width="3" height="17.10" fill="#00ff00" stroke="#000" stroke-width="0.8"/>
<line x1="818.50" y1="300.9" x2="818.50" y2="335.9" stroke="#000" stroke-width="1"/>
<rect x="816.80" y="305.2" width="3" height="22.30" fill="#00ff00" stroke="#000" stroke-width="0.8"/>
<line x1="824.50" y1="282.9" x2="824.50" y2="309.5" stroke="#000" stroke-width="1"/>
<rect x="822.80" y="302.3" width="3" height="2.90" fill="#00ff00" stroke="#000" stroke-width="0.8"/>
<line x1="830.50" y1="287.9" x2="830.50" y2="317.8" stroke="#000" stroke-width="1"/>
<rect x="828.80" y="302.3" width="3" height="9.80" fill="#ff0000" stroke="#000" stroke-width="0.8"/>
<line x1="836.50" y1="286.9" x2="836.50" y2="315.0" stroke="#000" stroke-width="1"/>
<rect x="834.80" y="294.5" width="3" height="17.60" fill="#00ff00" stroke="#000" stroke-width="0.8"/>
<line x1="842.50" y1="276.8" x2="842.50" y2="303.2" stroke="#000" stroke-width="1"/>
<rect x="840.80" y="285.5" width="3" height="17.70" fill="#00ff00" stroke="#000" stroke-width="0.8"/>
<line x1="848.50" y1="248.1" x2="848.50" y2="295.5" stroke="#000" stroke-width="1"/>
<rect x="846.80" y="253.4" width="3" height="32.50" fill="#00ff00" stroke="#000" stroke-width="0.8"/>
<line x1="854.50" y1="222.9" x2="854.50" y2="261.7" stroke="#000" stroke-width="1"/>
<rect x="852.80" y="236.1" width="3" height="17.30" fill="#00ff00" stroke="#000" stroke-width="0.8"/>
<line x1="860.50" y1="213.2" x2="860.50" y2="248.8" stroke="#000" stroke-width="1"/>
<rect x="858.80" y="225.5" width="3" height="11.00" fill="#00ff00" stroke="#000" stroke-width="0.8"/>
<line x1="866.50" y1="200.0" x2="866.50" y2="231.5" stroke="#000" stroke-width="1"/>
<rect x="864.80" y="201.1" width="3" height="24.50" fill="#00ff00" stroke="#000" stroke-width="0.8"/>
<line x1="872.50" y1="150.2" x2="872.50" y2="206.7" stroke="#000" stroke-width="1"/>
<rect x="870.80" y="162.5" width="3" height="44.20" fill="#00ff00" stroke="#000" stroke-width="0.8"/>
<line x1="878.50" y1="152.9" x2="878.50" y2="183.3" stroke="#000" stroke-width="1"/>
<rect x="876.80" y="162.2" width="3" height="14.40" fill="#ff0000" stroke="#000" stroke-width="0.8"/>
<line x1="884.50" y1="139.3" x2="884.50" y2="178.1" stroke="#000" stroke-width="1"/>
<rect x="882.80" y="146.3" width="3" height="30.50" fill="#00ff00" stroke="#000" stroke-width="0.8"/>
<line x1="890.50" y1="120.0" x2="890.50" y2="170.4" stroke="#000" stroke-width="1"/>
<rect x="888.80" y="123.2" width="3" height="23.10" fill="#00ff00" stroke="#000" stroke-width="0.8"/>
<line x1="896.50" y1="97.9" x2="896.50" y2="158.3" stroke="#000" stroke-width="1"/>
<rect x="894.80" y="123.2" width="3" height="28.90" fill="#ff0000" stroke="#000" stroke-width="0.8"/>
<line x1="902.50" y1="144.0" x2="902.50" y2="184.9" stroke="#000" stroke-width="1"/>
<rect x="900.80" y="154.6" width="3" height="3.70" fill="#ff0000" stroke="#000" stroke-width="0.8"/>
<line x1="908.50" y1="139.3" x2="908.50" y2="172.7" stroke="#000" stroke-width="1"/>
<rect x="906.80" y="141.0" width="3" height="17.30" fill="#00ff00" stroke="#000" stroke-width="0.8"/>
<line x1="914.50" y1="99.4" x2="914.50" y2="145.5" stroke="#000" stroke-width="1"/>
<rect x="912.80" y="117.1" width="3" height="24.40" fill="#00ff00" stroke="#000" stroke-width="0.8"/>
<line x1="920.50" y1="94.9" x2="920.50" y2="135.6" stroke="#000" stroke-width="1"/>
<rect x="918.80" y="111.0" width="3" height="6.10" fill="#00ff00" stroke="#000" stroke-width="0.8"/>
<line x1="926.50" y1="108.5" x2="926.50" y2="160.6" stroke="#000" stroke-width="1"/>
<rect x="924.80" y="111.5" width="3" height="36.70" fill="#ff0000" stroke="#000" stroke-width="0.8"/>
<line x1="932.50" y1="141.6" x2="932.50" y2="168.8" stroke="#000" stroke-width="1"/>
<rect x="930.80" y="147.8" width="3" height="20.30" fill="#ff0000" stroke="#000" stroke-width="0.8"/>
<line x1="938.50" y1="139.1" x2="938.50" y2="174.3" stroke="#000" stroke-width="1"/>
<rect x="936.80" y="166.6" width="3" height="1.50" fill="#00ff00" stroke="#000" stroke-width="0.8"/>
<line x1="944.50" y1="135.3" x2="944.50" y2="178.7" stroke="#000" stroke-width="1"/>
<rect x="942.80" y="149.4" width="3" height="18.20" fill="#00ff00" stroke="#000" stroke-width="0.8"/>
<line x1="950.50" y1="116.0" x2="950.50" y2="150.9" stroke="#000" stroke-width="1"/>
<rect x="948.80" y="137.3" width="3" height="12.60" fill="#00ff00" stroke="#000" stroke-width="0.8"/>
<line x1="956.50" y1="122.1" x2="956.50" y2="150.2" stroke="#000" stroke-width="1"/>
<rect x="954.80" y="125.4" width="3" height="11.90" fill="#00ff00" stroke="#000" stroke-width="0.8"/>
<line x1="962.50" y1="108.7" x2="962.50" y2="130.5" stroke="#000" stroke-width="1"/>
<rect x="960.80" y="114.0" width="3" height="12.50" fill="#00ff00" stroke="#000" stroke-width="0.8"/>
<line x1="968.50" y1="74.8" x2="968.50" y2="117.0" stroke="#000" stroke-width="1"/>
<rect x="966.80" y="89.1" width="3" height="24.90" fill="#00ff00" stroke="#000" stroke-width="0.8"/>
<line x1="974.50" y1="80.1" x2="974.50" y2="129.9" stroke="#000" stroke-width="1"/>
<rect x="972.80" y="89.1" width="3" height="38.00" fill="#ff0000" stroke="#000" stroke-width="0.8"/>
<line x1="980.50" y1="114.3" x2="980.50" y2="142.2" stroke="#000" stroke-width="1"/>
<rect x="978.80" y="117.9" width="3" height="9.30" fill="#00ff00" stroke="#000" stroke-width="0.8"/>
<line x1="986.50" y1="108.4" x2="986.50" y2="162.5" stroke="#000" stroke-width="1"/>
<rect x="984.80" y="117.9" width="3" height="25.90" fill="#ff0000" stroke="#000" stroke-width="0.8"/>
<line x1="992.50" y1="122.1" x2="992.50" y2="149.5" stroke="#000" stroke-width="1"/>
<line x1="990.50" y1="147.5" x2="994.10" y2="147.5" stroke="#000" stroke-width="1.6"/>
<line x1="998.50" y1="123.9" x2="998.50" y2="148.7" stroke="#000" stroke-width="1"/>
<rect x="996.80" y="128.6" width="3" height="19.00" fill="#00ff00" stroke="#000" stroke-width="0.8"/>
<line x1="1004.50" y1="126.2" x2="1004.50" y2="154.8" stroke="#000" stroke-width="1"/>
<rect x="1002.80" y="128.1" width="3" height="2.10" fill="#ff0000" stroke="#000" stroke-width="0.8"/>
<line x1="1010.50" y1="101.0" x2="1010.50" y2="157.8" stroke="#000" stroke-width="1"/>
<rect x="1008.80" y="130.7" width="3" height="2.60" fill="#ff0000" stroke="#000" stroke-width="0.8"/>
<line x1="1016.50" y1="93.7" x2="1016.50" y2="137.5" stroke="#000" stroke-width="1"/>
<rect x="1014.80" y="99.0" width="3" height="35.20" fill="#00ff00" stroke="#000" stroke-width="0.8"/>
<line x1="1022.50" y1="75.0" x2="1022.50" y2="108.0" stroke="#000" stroke-width="1"/>
<rect x="1020.80" y="87.0" width="3" height="15.30" fill="#00ff00" stroke="#000" stroke-width="0.8"/>
<line x1="1028.50" y1="56.3" x2="1028.50" y2="101.3" stroke="#000" stroke-width="1"/>
<rect x="1026.80" y="87.6" width="3" height="8.90" fill="#ff0000" stroke="#000" stroke-width="0.8"/>
<line x1="1034.50" y1="90.0" x2="1034.50" y2="133.8" stroke="#000" stroke-width="1"/>
<rect x="1032.80" y="96.7" width="3" height="25.80" fill="#ff0000" stroke="#000" stroke-width="0.8"/>
<line x1="1040.50" y1="116.0" x2="1040.50" y2="147.5" stroke="#000" stroke-width="1"/>
<line x1="1038.50" y1="122.5" x2="1042.10" y2="122.5" stroke="#000" stroke-width="1.6"/>
<line x1="1046.50" y1="115.0" x2="1046.50" y2="150.0" stroke="#000" stroke-width="1"/>
<rect x="1044.80" y="122.5" width="3" height="4.70" fill="#ff0000" stroke="#000" stroke-width="0.8"/>
<line x1="1052.50" y1="121.7" x2="1052.50" y2="138.3" stroke="#000" stroke-width="1"/>
<rect x="1050.80" y="123.2" width="3" height="14.30" fill="#ff0000" stroke="#000" stroke-width="0.8"/>
<line x1="1058.50" y1="131.0" x2="1058.50" y2="156.0" stroke="#000" stroke-width="1"/>
<rect x="1056.80" y="137.5" width="3" height="15.60" fill="#ff0000" stroke="#000" stroke-width="0.8"/>
<line x1="1064.50" y1="128.1" x2="1064.50" y2="161.6" stroke="#000" stroke-width="1"/>
<rect x="1062.80" y="140.9" width="3" height="12.20" fill="#00ff00" stroke="#000" stroke-width="0.8"/>
<line x1="1070.50" y1="94.3" x2="1070.50" y2="143.0" stroke="#000" stroke-width="1"/>
<rect x="1068.80" y="136.6" width="3" height="4.70" fill="#00ff00" stroke="#000" stroke-width="0.8"/>
<line x1="1076.50" y1="112.0" x2="1076.50" y2="138.6" stroke="#000" stroke-width="1"/>
<rect x="1074.80" y="124.8" width="3" height="11.20" fill="#00ff00" stroke="#000" stroke-width="0.8"/>
<line x1="1082.50" y1="106.1" x2="1082.50" y2="130.1" stroke="#000" stroke-width="1"/>
<rect x="1080.80" y="116.6" width="3" height="11.50" fill="#00ff00" stroke="#000" stroke-width="0.8"/>
<line x1="1088.50" y1="100.7" x2="1088.50" y2="126.2" stroke="#000" stroke-width="1"/>
<rect x="1086.80" y="116.6" width="3" height="6.70" fill="#ff0000" stroke="#000" stroke-width="0.8"/>
<line x1="1094.50" y1="108.0" x2="1094.50" y2="147.3" stroke="#000" stroke-width="1"/>
<rect x="1092.80" y="123.0" width="3" height="12.20" fill="#ff0000" stroke="#000" stroke-width="0.8"/>
<line x1="1100.50" y1="120.5" x2="1100.50" y2="168.4" stroke="#000" stroke-width="1"/>
<rect x="1098.80" y="123.0" width="3" height="12.80" fill="#00ff00" stroke="#000" stroke-width="0.8"/>
<line x1="1106.50" y1="114.7" x2="1106.50" y2="131.0" stroke="#000" stroke-width="1"/>
<rect x="1104.80" y="123.3" width="3" height="2.30" fill="#ff0000" stroke="#000" stroke-width="0.8"/>
<line x1="1112.50" y1="112.8" x2="1112.50" y2="153.0" stroke="#000" stroke-width="1"/>
<rect x="1110.80" y="126.1" width="3" height="22.30" fill="#ff0000" stroke="#000" stroke-width="0.8"/>
<line x1="2" y1="438.5" x2="88" y2="421.5" stroke="#000" stroke-width="1" stroke-dasharray="13.6 4.4" shape-rendering="crispEdges"/>
<line x1="877.7" y1="112.8" x2="974.3" y2="71.6" stroke="#000" stroke-width="1" stroke-dasharray="13.6 4.4" shape-rendering="crispEdges"/>
<line x1="970.4" y1="77.5" x2="1220.2" y2="121.8" stroke="#000" stroke-width="1" stroke-dasharray="13.6 4.4" shape-rendering="crispEdges"/>
<line x1="895.7" y1="188.2" x2="991" y2="147.5" stroke="#000" stroke-width="1" stroke-dasharray="13.6 4.4" shape-rendering="crispEdges"/>
<line x1="967.8" y1="148.8" x2="1231.7" y2="195.2" stroke="#000" stroke-width="1" stroke-dasharray="13.6 4.4" shape-rendering="crispEdges"/>
<line x1="495" y1="613" x2="1178.8" y2="41.3" stroke="#000" stroke-width="1.8"/>
<line x1="764" y1="194.2" x2="1036" y2="156.4" stroke="#000" stroke-width="2.4"/>
<polygon points="1043.6,154.7 1031.4,150.2 1035.9,156.4 1034.5,161.3" fill="#000"/>
<ellipse cx="1108.2" cy="173.3" rx="21.3" ry="20.5" fill="none" stroke="#222" stroke-width="1.4"/>
<text x="391.3" y="186.9" font-size="20" textLength="371" lengthAdjust="spacingAndGlyphs" fill="#111" stroke="#111" stroke-width="0.25">while technically we are still in consolidation,</text>
<text x="393.2" y="210.9" font-size="20" textLength="367" lengthAdjust="spacingAndGlyphs" fill="#111" stroke="#111" stroke-width="0.25">the support trendline is now officialy broken</text>
<text x="1087.9" y="55.1" font-size="15" font-weight="bold" textLength="17.8" lengthAdjust="spacingAndGlyphs" fill="#f00000">R2</text>
<text x="1133" y="99.9" font-size="15" font-weight="bold" textLength="59.2" lengthAdjust="spacingAndGlyphs" fill="#f00000">R1: 1.19</text>
<text x="1097.1" y="211.9" font-size="15" font-weight="bold" textLength="122.5" lengthAdjust="spacingAndGlyphs" fill="#00a814">S1: 1.1750 - 1.18</text>
<text x="1167.1" y="277.8" font-size="15" font-weight="bold" textLength="57.6" lengthAdjust="spacingAndGlyphs" fill="#00a814">S2: 1.15</text>
<text transform="translate(934.5,332.5) rotate(-41.8)" font-size="15.5" textLength="64" lengthAdjust="spacingAndGlyphs" fill="#1e90ff" stroke="#1e90ff" stroke-width="0.35">55-DSMA</text>
<text transform="translate(953.5,406) rotate(-25)" font-size="15.5" textLength="71.8" lengthAdjust="spacingAndGlyphs" fill="#ff8c00" stroke="#ff8c00" stroke-width="0.35">100-DSMA</text>
<text transform="translate(869.2,455.4) rotate(-11.4)" font-size="15.5" textLength="74.7" lengthAdjust="spacingAndGlyphs" fill="#ff0000" stroke="#ff0000" stroke-width="0.35">200-DSMA</text>
<rect x="1.5" y="1.5" width="1401" height="655" fill="none" stroke="#000" stroke-width="1.3"/>
<path d="M1.5,657.3 V713.5 H1402.5 V657.3" fill="none" stroke="#000" stroke-width="1.3"/>
<line x1="1" y1="657.6" x2="1403" y2="657.6" stroke="#555" stroke-width="0.8"/>
<text x="5.6" y="9.8" font-size="7" textLength="46.4" lengthAdjust="spacingAndGlyphs" fill="#000">EURUSD,Daily</text>
<text x="57.8" y="9.8" font-size="7" textLength="104.7" lengthAdjust="spacingAndGlyphs" fill="#000">1.18391 1.18712 1.17750 1.17841</text>
<line x1="1402" y1="10.0" x2="1405" y2="10.0" stroke="#000" stroke-width="1"/>
<text x="1407" y="12.9" font-size="7.8" textLength="24.3" lengthAdjust="spacingAndGlyphs" fill="#000">1.21240</text>
<line x1="1402" y1="35.1" x2="1405" y2="35.1" stroke="#000" stroke-width="1"/>
<text x="1407" y="38.0" font-size="7.8" textLength="24.3" lengthAdjust="spacingAndGlyphs" fill="#000">1.20625</text>
<line x1="1402" y1="84.5" x2="1405" y2="84.5" stroke="#000" stroke-width="1"/>
<text x="1407" y="87.4" font-size="7.8" textLength="24.3" lengthAdjust="spacingAndGlyphs" fill="#000">1.19410</text>
<line x1="1402" y1="109.5" x2="1405" y2="109.5" stroke="#000" stroke-width="1"/>
<text x="1407" y="112.4" font-size="7.8" textLength="24.3" lengthAdjust="spacingAndGlyphs" fill="#000">1.18795</text>
<line x1="1402" y1="134.0" x2="1405" y2="134.0" stroke="#000" stroke-width="1"/>
<text x="1407" y="136.9" font-size="7.8" textLength="24.3" lengthAdjust="spacingAndGlyphs" fill="#000">1.18195</text>
<line x1="1402" y1="159.0" x2="1405" y2="159.0" stroke="#000" stroke-width="1"/>
<text x="1407" y="161.9" font-size="7.8" textLength="24.3" lengthAdjust="spacingAndGlyphs" fill="#000">1.17580</text>
<line x1="1402" y1="183.4" x2="1405" y2="183.4" stroke="#000" stroke-width="1"/>
<text x="1407" y="186.3" font-size="7.8" textLength="24.3" lengthAdjust="spacingAndGlyphs" fill="#000">1.16980</text>
<line x1="1402" y1="208.4" x2="1405" y2="208.4" stroke="#000" stroke-width="1"/>
<text x="1407" y="211.3" font-size="7.8" textLength="24.3" lengthAdjust="spacingAndGlyphs" fill="#000">1.16365</text>
<line x1="1402" y1="232.9" x2="1405" y2="232.9" stroke="#000" stroke-width="1"/>
<text x="1407" y="235.8" font-size="7.8" textLength="24.3" lengthAdjust="spacingAndGlyphs" fill="#000">1.15765</text>
<line x1="1402" y1="257.9" x2="1405" y2="257.9" stroke="#000" stroke-width="1"/>
<text x="1407" y="260.8" font-size="7.8" textLength="24.3" lengthAdjust="spacingAndGlyphs" fill="#000">1.15150</text>
<line x1="1402" y1="282.9" x2="1405" y2="282.9" stroke="#000" stroke-width="1"/>
<text x="1407" y="285.8" font-size="7.8" textLength="24.3" lengthAdjust="spacingAndGlyphs" fill="#000">1.14535</text>
<line x1="1402" y1="307.3" x2="1405" y2="307.3" stroke="#000" stroke-width="1"/>
<text x="1407" y="310.2" font-size="7.8" textLength="24.3" lengthAdjust="spacingAndGlyphs" fill="#000">1.13935</text>
<line x1="1402" y1="332.4" x2="1405" y2="332.4" stroke="#000" stroke-width="1"/>
<text x="1407" y="335.3" font-size="7.8" textLength="24.3" lengthAdjust="spacingAndGlyphs" fill="#000">1.13320</text>
<line x1="1402" y1="356.8" x2="1405" y2="356.8" stroke="#000" stroke-width="1"/>
<text x="1407" y="359.7" font-size="7.8" textLength="24.3" lengthAdjust="spacingAndGlyphs" fill="#000">1.12720</text>
<line x1="1402" y1="381.8" x2="1405" y2="381.8" stroke="#000" stroke-width="1"/>
<text x="1407" y="384.7" font-size="7.8" textLength="24.3" lengthAdjust="spacingAndGlyphs" fill="#000">1.12105</text>
<line x1="1402" y1="406.2" x2="1405" y2="406.2" stroke="#000" stroke-width="1"/>
<text x="1407" y="409.1" font-size="7.8" textLength="24.3" lengthAdjust="spacingAndGlyphs" fill="#000">1.11505</text>
<line x1="1402" y1="431.3" x2="1405" y2="431.3" stroke="#000" stroke-width="1"/>
<text x="1407" y="434.2" font-size="7.8" textLength="24.3" lengthAdjust="spacingAndGlyphs" fill="#000">1.10890</text>
<line x1="1402" y1="456.3" x2="1405" y2="456.3" stroke="#000" stroke-width="1"/>
<text x="1407" y="459.2" font-size="7.8" textLength="24.3" lengthAdjust="spacingAndGlyphs" fill="#000">1.10275</text>
<line x1="1402" y1="480.7" x2="1405" y2="480.7" stroke="#000" stroke-width="1"/>
<text x="1407" y="483.6" font-size="7.8" textLength="24.3" lengthAdjust="spacingAndGlyphs" fill="#000">1.09675</text>
<line x1="1402" y1="505.8" x2="1405" y2="505.8" stroke="#000" stroke-width="1"/>
<text x="1407" y="508.7" font-size="7.8" textLength="24.3" lengthAdjust="spacingAndGlyphs" fill="#000">1.09060</text>
<line x1="1402" y1="530.2" x2="1405" y2="530.2" stroke="#000" stroke-width="1"/>
<text x="1407" y="533.1" font-size="7.8" textLength="24.3" lengthAdjust="spacingAndGlyphs" fill="#000">1.08460</text>
<line x1="1402" y1="555.2" x2="1405" y2="555.2" stroke="#000" stroke-width="1"/>
<text x="1407" y="558.1" font-size="7.8" textLength="24.3" lengthAdjust="spacingAndGlyphs" fill="#000">1.07845</text>
<line x1="1402" y1="579.6" x2="1405" y2="579.6" stroke="#000" stroke-width="1"/>
<text x="1407" y="582.5" font-size="7.8" textLength="24.3" lengthAdjust="spacingAndGlyphs" fill="#000">1.07245</text>
<line x1="1402" y1="604.7" x2="1405" y2="604.7" stroke="#000" stroke-width="1"/>
<text x="1407" y="607.6" font-size="7.8" textLength="24.3" lengthAdjust="spacingAndGlyphs" fill="#000">1.06630</text>
<line x1="1402" y1="629.1" x2="1405" y2="629.1" stroke="#000" stroke-width="1"/>
<text x="1407" y="632.0" font-size="7.8" textLength="24.3" lengthAdjust="spacingAndGlyphs" fill="#000">1.06030</text>
<line x1="1402" y1="654.1" x2="1405" y2="654.1" stroke="#000" stroke-width="1"/>
<text x="1407" y="657.0" font-size="7.8" textLength="24.3" lengthAdjust="spacingAndGlyphs" fill="#000">1.05415</text>
<rect x="1404" y="56.0" width="31" height="8" fill="#4169e1"/>
<text x="1407.3" y="63.4" font-size="7.8" textLength="23.8" lengthAdjust="spacingAndGlyphs" fill="#fff">1.20000</text>
<rect x="1404" y="138.0" width="31" height="8" fill="#4169e1"/>
<text x="1407.3" y="145.4" font-size="7.8" textLength="23.8" lengthAdjust="spacingAndGlyphs" fill="#fff">1.18000</text>
<rect x="1404" y="260.0" width="31" height="8" fill="#4169e1"/>
<text x="1407.3" y="267.4" font-size="7.8" textLength="23.8" lengthAdjust="spacingAndGlyphs" fill="#fff">1.15000</text>
<rect x="1404" y="321.0" width="31" height="8" fill="#4169e1"/>
<text x="1407.3" y="328.4" font-size="7.8" textLength="23.8" lengthAdjust="spacingAndGlyphs" fill="#fff">1.13500</text>
<rect x="1404" y="463.0" width="31" height="8" fill="#4169e1"/>
<text x="1407.3" y="470.4" font-size="7.8" textLength="23.8" lengthAdjust="spacingAndGlyphs" fill="#fff">1.10000</text>
<rect x="1404" y="585.0" width="31" height="8" fill="#4169e1"/>
<text x="1407.3" y="592.4" font-size="7.8" textLength="23.8" lengthAdjust="spacingAndGlyphs" fill="#fff">1.07000</text>
<rect x="1404" y="145.5" width="31" height="7" fill="#000"/>
<text x="1407.3" y="151.9" font-size="7.8" textLength="23.8" lengthAdjust="spacingAndGlyphs" fill="#fff">1.17841</text>
<line x1="2" y1="675.5" x2="1402" y2="675.5" stroke="#d6d6d6" stroke-width="1" stroke-dasharray="2.5 2"/>
<line x1="2" y1="696.5" x2="1402" y2="696.5" stroke="#d6d6d6" stroke-width="1" stroke-dasharray="2.5 2"/>
<text x="5" y="667" font-size="7" textLength="120.3" lengthAdjust="spacingAndGlyphs" fill="#000">fsr_overbought_oversold_2.98 46.2183</text>
<text x="1405" y="665.6" font-size="7" fill="#000">100</text>
<text x="1405" y="677.6" font-size="7" fill="#000">70</text>
<text x="1405" y="698.6" font-size="7" fill="#000">30</text>
<text x="1405" y="710.4" font-size="7" fill="#000">0</text>
<defs><clipPath id="cr"><rect x="0" y="650" width="1437" height="21.5"/></clipPath><clipPath id="cg"><rect x="0" y="671.5" width="1437" height="29"/></clipPath><clipPath id="cn"><rect x="0" y="700.5" width="1437" height="15"/></clipPath></defs>
<g clip-path="url(#cr)"><path d="M2.50,677.60 C4.17,678.22 9.15,679.95 12.50,681.30 C15.85,682.65 19.25,684.45 22.60,685.70 C25.95,686.95 27.18,688.28 32.60,688.80 C38.02,689.32 48.00,687.85 55.10,688.80 C62.20,689.75 69.13,692.30 75.20,694.50 C81.27,696.70 86.90,700.07 91.50,702.00 C96.10,703.93 99.47,705.42 102.80,706.10 C106.13,706.78 109.00,706.68 111.50,706.10 C114.00,705.52 115.50,704.22 117.80,702.60 C120.10,700.98 122.80,697.97 125.30,696.40 C127.80,694.83 130.28,693.73 132.80,693.20 C135.32,692.67 137.88,692.78 140.40,693.20 C142.92,693.62 144.98,694.45 147.90,695.70 C150.82,696.95 153.38,698.90 157.90,700.70 C162.42,702.50 169.57,705.13 175.00,706.50 C180.43,707.87 186.67,708.22 190.50,708.90 C194.33,709.58 195.08,710.82 198.00,710.60 C200.92,710.38 204.67,709.27 208.00,707.60 C211.33,705.93 214.23,704.15 218.00,700.60 C221.77,697.05 226.62,691.18 230.60,686.30 C234.58,681.42 238.15,674.85 241.90,671.30 C245.65,667.75 248.30,666.47 253.10,665.00 C257.90,663.53 266.10,662.50 270.70,662.50 C275.30,662.50 277.37,663.53 280.70,665.00 C284.03,666.47 286.10,668.37 290.70,671.30 C295.30,674.23 302.87,678.63 308.30,682.60 C313.73,686.57 319.13,692.18 323.30,695.10 C327.47,698.02 329.75,699.13 333.30,700.10 C336.85,701.07 340.98,701.73 344.60,700.90 C348.22,700.07 351.18,697.40 355.00,695.10 C358.82,692.80 363.73,688.77 367.50,687.10 C371.27,685.43 372.58,684.73 377.60,685.10 C382.62,685.47 391.77,688.60 397.60,689.30 C403.43,690.00 406.33,690.08 412.60,689.30 C418.87,688.52 426.83,684.60 435.20,684.60 C443.57,684.60 455.70,687.47 462.80,689.30 C469.90,691.13 473.22,694.63 477.80,695.60 C482.38,696.57 486.12,696.65 490.30,695.10 C494.48,693.55 499.13,688.93 502.90,686.30 C506.67,683.67 509.98,680.33 512.90,679.30 C515.82,678.27 517.07,678.93 520.40,680.10 C523.73,681.27 528.30,684.97 532.90,686.30 C537.50,687.63 542.15,687.55 548.00,688.10 C553.85,688.65 563.42,689.68 568.00,689.60 C572.58,689.52 571.73,689.40 575.50,687.60 C579.27,685.80 586.83,680.47 590.60,678.80 C594.37,677.13 594.35,677.80 598.10,677.60 C601.85,677.40 607.67,678.65 613.10,677.60 C618.53,676.55 624.43,673.40 630.70,671.30 C636.97,669.20 644.85,666.47 650.70,665.00 C656.55,663.53 661.62,662.70 665.80,662.50 C669.98,662.30 671.42,662.33 675.80,663.80 C680.18,665.27 686.40,668.43 692.10,671.30 C697.80,674.17 704.98,678.25 710.00,681.00 C715.02,683.75 717.10,686.42 722.20,687.80 C727.30,689.18 732.43,689.05 740.60,689.30 C748.77,689.55 765.07,689.40 771.20,689.30 C777.33,689.20 772.28,690.23 777.40,688.70 C782.52,687.17 796.30,681.73 801.90,680.10 C807.50,678.47 806.93,680.17 811.00,678.90 C815.07,677.63 820.17,674.28 826.30,672.50 C832.43,670.72 840.13,670.00 847.80,668.20 C855.47,666.40 864.65,663.13 872.30,661.70 C879.95,660.27 888.08,659.43 893.70,659.60 C899.32,659.77 900.63,661.07 906.00,662.70 C911.37,664.33 919.27,666.50 925.90,669.40 C932.53,672.30 940.95,678.02 945.80,680.10 C950.65,682.18 951.95,681.60 955.00,681.90 C958.05,682.20 960.53,682.40 964.10,681.90 C967.67,681.40 972.82,679.05 976.40,678.90 C979.98,678.75 979.98,679.63 985.60,681.00 C991.22,682.37 1002.45,687.35 1010.10,687.10 C1017.75,686.85 1026.40,680.67 1031.50,679.50 C1036.60,678.33 1035.08,678.17 1040.70,680.10 C1046.32,682.03 1059.58,689.27 1065.20,691.10 C1070.82,692.93 1070.32,691.77 1074.40,691.10 C1078.48,690.43 1083.33,687.77 1089.70,687.10 C1096.07,686.43 1108.78,687.10 1112.60,687.10" fill="none" stroke="#ff0000" stroke-width="1.6" stroke-linejoin="round" stroke-linecap="round"/></g>
<g clip-path="url(#cg)"><path d="M2.50,677.60 C4.17,678.22 9.15,679.95 12.50,681.30 C15.85,682.65 19.25,684.45 22.60,685.70 C25.95,686.95 27.18,688.28 32.60,688.80 C38.02,689.32 48.00,687.85 55.10,688.80 C62.20,689.75 69.13,692.30 75.20,694.50 C81.27,696.70 86.90,700.07 91.50,702.00 C96.10,703.93 99.47,705.42 102.80,706.10 C106.13,706.78 109.00,706.68 111.50,706.10 C114.00,705.52 115.50,704.22 117.80,702.60 C120.10,700.98 122.80,697.97 125.30,696.40 C127.80,694.83 130.28,693.73 132.80,693.20 C135.32,692.67 137.88,692.78 140.40,693.20 C142.92,693.62 144.98,694.45 147.90,695.70 C150.82,696.95 153.38,698.90 157.90,700.70 C162.42,702.50 169.57,705.13 175.00,706.50 C180.43,707.87 186.67,708.22 190.50,708.90 C194.33,709.58 195.08,710.82 198.00,710.60 C200.92,710.38 204.67,709.27 208.00,707.60 C211.33,705.93 214.23,704.15 218.00,700.60 C221.77,697.05 226.62,691.18 230.60,686.30 C234.58,681.42 238.15,674.85 241.90,671.30 C245.65,667.75 248.30,666.47 253.10,665.00 C257.90,663.53 266.10,662.50 270.70,662.50 C275.30,662.50 277.37,663.53 280.70,665.00 C284.03,666.47 286.10,668.37 290.70,671.30 C295.30,674.23 302.87,678.63 308.30,682.60 C313.73,686.57 319.13,692.18 323.30,695.10 C327.47,698.02 329.75,699.13 333.30,700.10 C336.85,701.07 340.98,701.73 344.60,700.90 C348.22,700.07 351.18,697.40 355.00,695.10 C358.82,692.80 363.73,688.77 367.50,687.10 C371.27,685.43 372.58,684.73 377.60,685.10 C382.62,685.47 391.77,688.60 397.60,689.30 C403.43,690.00 406.33,690.08 412.60,689.30 C418.87,688.52 426.83,684.60 435.20,684.60 C443.57,684.60 455.70,687.47 462.80,689.30 C469.90,691.13 473.22,694.63 477.80,695.60 C482.38,696.57 486.12,696.65 490.30,695.10 C494.48,693.55 499.13,688.93 502.90,686.30 C506.67,683.67 509.98,680.33 512.90,679.30 C515.82,678.27 517.07,678.93 520.40,680.10 C523.73,681.27 528.30,684.97 532.90,686.30 C537.50,687.63 542.15,687.55 548.00,688.10 C553.85,688.65 563.42,689.68 568.00,689.60 C572.58,689.52 571.73,689.40 575.50,687.60 C579.27,685.80 586.83,680.47 590.60,678.80 C594.37,677.13 594.35,677.80 598.10,677.60 C601.85,677.40 607.67,678.65 613.10,677.60 C618.53,676.55 624.43,673.40 630.70,671.30 C636.97,669.20 644.85,666.47 650.70,665.00 C656.55,663.53 661.62,662.70 665.80,662.50 C669.98,662.30 671.42,662.33 675.80,663.80 C680.18,665.27 686.40,668.43 692.10,671.30 C697.80,674.17 704.98,678.25 710.00,681.00 C715.02,683.75 717.10,686.42 722.20,687.80 C727.30,689.18 732.43,689.05 740.60,689.30 C748.77,689.55 765.07,689.40 771.20,689.30 C777.33,689.20 772.28,690.23 777.40,688.70 C782.52,687.17 796.30,681.73 801.90,680.10 C807.50,678.47 806.93,680.17 811.00,678.90 C815.07,677.63 820.17,674.28 826.30,672.50 C832.43,670.72 840.13,670.00 847.80,668.20 C855.47,666.40 864.65,663.13 872.30,661.70 C879.95,660.27 888.08,659.43 893.70,659.60 C899.32,659.77 900.63,661.07 906.00,662.70 C911.37,664.33 919.27,666.50 925.90,669.40 C932.53,672.30 940.95,678.02 945.80,680.10 C950.65,682.18 951.95,681.60 955.00,681.90 C958.05,682.20 960.53,682.40 964.10,681.90 C967.67,681.40 972.82,679.05 976.40,678.90 C979.98,678.75 979.98,679.63 985.60,681.00 C991.22,682.37 1002.45,687.35 1010.10,687.10 C1017.75,686.85 1026.40,680.67 1031.50,679.50 C1036.60,678.33 1035.08,678.17 1040.70,680.10 C1046.32,682.03 1059.58,689.27 1065.20,691.10 C1070.82,692.93 1070.32,691.77 1074.40,691.10 C1078.48,690.43 1083.33,687.77 1089.70,687.10 C1096.07,686.43 1108.78,687.10 1112.60,687.10" fill="none" stroke="#808080" stroke-width="1.6" stroke-linejoin="round" stroke-linecap="round"/></g>
<g clip-path="url(#cn)"><path d="M2.50,677.60 C4.17,678.22 9.15,679.95 12.50,681.30 C15.85,682.65 19.25,684.45 22.60,685.70 C25.95,686.95 27.18,688.28 32.60,688.80 C38.02,689.32 48.00,687.85 55.10,688.80 C62.20,689.75 69.13,692.30 75.20,694.50 C81.27,696.70 86.90,700.07 91.50,702.00 C96.10,703.93 99.47,705.42 102.80,706.10 C106.13,706.78 109.00,706.68 111.50,706.10 C114.00,705.52 115.50,704.22 117.80,702.60 C120.10,700.98 122.80,697.97 125.30,696.40 C127.80,694.83 130.28,693.73 132.80,693.20 C135.32,692.67 137.88,692.78 140.40,693.20 C142.92,693.62 144.98,694.45 147.90,695.70 C150.82,696.95 153.38,698.90 157.90,700.70 C162.42,702.50 169.57,705.13 175.00,706.50 C180.43,707.87 186.67,708.22 190.50,708.90 C194.33,709.58 195.08,710.82 198.00,710.60 C200.92,710.38 204.67,709.27 208.00,707.60 C211.33,705.93 214.23,704.15 218.00,700.60 C221.77,697.05 226.62,691.18 230.60,686.30 C234.58,681.42 238.15,674.85 241.90,671.30 C245.65,667.75 248.30,666.47 253.10,665.00 C257.90,663.53 266.10,662.50 270.70,662.50 C275.30,662.50 277.37,663.53 280.70,665.00 C284.03,666.47 286.10,668.37 290.70,671.30 C295.30,674.23 302.87,678.63 308.30,682.60 C313.73,686.57 319.13,692.18 323.30,695.10 C327.47,698.02 329.75,699.13 333.30,700.10 C336.85,701.07 340.98,701.73 344.60,700.90 C348.22,700.07 351.18,697.40 355.00,695.10 C358.82,692.80 363.73,688.77 367.50,687.10 C371.27,685.43 372.58,684.73 377.60,685.10 C382.62,685.47 391.77,688.60 397.60,689.30 C403.43,690.00 406.33,690.08 412.60,689.30 C418.87,688.52 426.83,684.60 435.20,684.60 C443.57,684.60 455.70,687.47 462.80,689.30 C469.90,691.13 473.22,694.63 477.80,695.60 C482.38,696.57 486.12,696.65 490.30,695.10 C494.48,693.55 499.13,688.93 502.90,686.30 C506.67,683.67 509.98,680.33 512.90,679.30 C515.82,678.27 517.07,678.93 520.40,680.10 C523.73,681.27 528.30,684.97 532.90,686.30 C537.50,687.63 542.15,687.55 548.00,688.10 C553.85,688.65 563.42,689.68 568.00,689.60 C572.58,689.52 571.73,689.40 575.50,687.60 C579.27,685.80 586.83,680.47 590.60,678.80 C594.37,677.13 594.35,677.80 598.10,677.60 C601.85,677.40 607.67,678.65 613.10,677.60 C618.53,676.55 624.43,673.40 630.70,671.30 C636.97,669.20 644.85,666.47 650.70,665.00 C656.55,663.53 661.62,662.70 665.80,662.50 C669.98,662.30 671.42,662.33 675.80,663.80 C680.18,665.27 686.40,668.43 692.10,671.30 C697.80,674.17 704.98,678.25 710.00,681.00 C715.02,683.75 717.10,686.42 722.20,687.80 C727.30,689.18 732.43,689.05 740.60,689.30 C748.77,689.55 765.07,689.40 771.20,689.30 C777.33,689.20 772.28,690.23 777.40,688.70 C782.52,687.17 796.30,681.73 801.90,680.10 C807.50,678.47 806.93,680.17 811.00,678.90 C815.07,677.63 820.17,674.28 826.30,672.50 C832.43,670.72 840.13,670.00 847.80,668.20 C855.47,666.40 864.65,663.13 872.30,661.70 C879.95,660.27 888.08,659.43 893.70,659.60 C899.32,659.77 900.63,661.07 906.00,662.70 C911.37,664.33 919.27,666.50 925.90,669.40 C932.53,672.30 940.95,678.02 945.80,680.10 C950.65,682.18 951.95,681.60 955.00,681.90 C958.05,682.20 960.53,682.40 964.10,681.90 C967.67,681.40 972.82,679.05 976.40,678.90 C979.98,678.75 979.98,679.63 985.60,681.00 C991.22,682.37 1002.45,687.35 1010.10,687.10 C1017.75,686.85 1026.40,680.67 1031.50,679.50 C1036.60,678.33 1035.08,678.17 1040.70,680.10 C1046.32,682.03 1059.58,689.27 1065.20,691.10 C1070.82,692.93 1070.32,691.77 1074.40,691.10 C1078.48,690.43 1083.33,687.77 1089.70,687.10 C1096.07,686.43 1108.78,687.10 1112.60,687.10" fill="none" stroke="#008000" stroke-width="1.6" stroke-linejoin="round" stroke-linecap="round"/></g>
<line x1="2.3" y1="713" x2="2.3" y2="716.5" stroke="#000" stroke-width="1"/>
<text x="1.3" y="722.6" font-size="7.4" textLength="33.4" lengthAdjust="spacingAndGlyphs" fill="#000">6 Jan 2020</text>
<line x1="50.3" y1="713" x2="50.3" y2="716.5" stroke="#000" stroke-width="1"/>
<text x="49.3" y="722.6" font-size="7.4" textLength="37.2" lengthAdjust="spacingAndGlyphs" fill="#000">16 Jan 2020</text>
<line x1="98.3" y1="713" x2="98.3" y2="716.5" stroke="#000" stroke-width="1"/>
<text x="97.3" y="722.6" font-size="7.4" textLength="37.2" lengthAdjust="spacingAndGlyphs" fill="#000">28 Jan 2020</text>
<line x1="146.3" y1="713" x2="146.3" y2="716.5" stroke="#000" stroke-width="1"/>
<text x="145.3" y="722.6" font-size="7.4" textLength="34.1" lengthAdjust="spacingAndGlyphs" fill="#000">7 Feb 2020</text>
<line x1="194.3" y1="713" x2="194.3" y2="716.5" stroke="#000" stroke-width="1"/>
<text x="193.3" y="722.6" font-size="7.4" textLength="37.9" lengthAdjust="spacingAndGlyphs" fill="#000">19 Feb 2020</text>
<line x1="242.3" y1="713" x2="242.3" y2="716.5" stroke="#000" stroke-width="1"/>
<text x="241.3" y="722.6" font-size="7.4" textLength="34.1" lengthAdjust="spacingAndGlyphs" fill="#000">2 Mar 2020</text>
<line x1="290.3" y1="713" x2="290.3" y2="716.5" stroke="#000" stroke-width="1"/>
<text x="289.3" y="722.6" font-size="7.4" textLength="37.9" lengthAdjust="spacingAndGlyphs" fill="#000">12 Mar 2020</text>
<line x1="338.3" y1="713" x2="338.3" y2="716.5" stroke="#000" stroke-width="1"/>
<text x="337.3" y="722.6" font-size="7.4" textLength="37.9" lengthAdjust="spacingAndGlyphs" fill="#000">24 Mar 2020</text>
<line x1="386.3" y1="713" x2="386.3" y2="716.5" stroke="#000" stroke-width="1"/>
<text x="385.3" y="722.6" font-size="7.4" textLength="32.6" lengthAdjust="spacingAndGlyphs" fill="#000">3 Apr 2020</text>
<line x1="434.3" y1="713" x2="434.3" y2="716.5" stroke="#000" stroke-width="1"/>
<text x="433.3" y="722.6" font-size="7.4" textLength="36.4" lengthAdjust="spacingAndGlyphs" fill="#000">15 Apr 2020</text>
<line x1="482.3" y1="713" x2="482.3" y2="716.5" stroke="#000" stroke-width="1"/>
<text x="481.3" y="722.6" font-size="7.4" textLength="36.4" lengthAdjust="spacingAndGlyphs" fill="#000">27 Apr 2020</text>
<line x1="530.3" y1="713" x2="530.3" y2="716.5" stroke="#000" stroke-width="1"/>
<text x="529.3" y="722.6" font-size="7.4" textLength="35.3" lengthAdjust="spacingAndGlyphs" fill="#000">7 May 2020</text>
<line x1="578.3" y1="713" x2="578.3" y2="716.5" stroke="#000" stroke-width="1"/>
<text x="577.3" y="722.6" font-size="7.4" textLength="39.0" lengthAdjust="spacingAndGlyphs" fill="#000">19 May 2020</text>
<line x1="626.3" y1="713" x2="626.3" y2="716.5" stroke="#000" stroke-width="1"/>
<text x="625.3" y="722.6" font-size="7.4" textLength="39.0" lengthAdjust="spacingAndGlyphs" fill="#000">29 May 2020</text>
<line x1="674.3" y1="713" x2="674.3" y2="716.5" stroke="#000" stroke-width="1"/>
<text x="673.3" y="722.6" font-size="7.4" textLength="37.2" lengthAdjust="spacingAndGlyphs" fill="#000">10 Jun 2020</text>
<line x1="722.3" y1="713" x2="722.3" y2="716.5" stroke="#000" stroke-width="1"/>
<text x="721.3" y="722.6" font-size="7.4" textLength="37.2" lengthAdjust="spacingAndGlyphs" fill="#000">22 Jun 2020</text>
<line x1="770.3" y1="713" x2="770.3" y2="716.5" stroke="#000" stroke-width="1"/>
<text x="769.3" y="722.6" font-size="7.4" textLength="31.1" lengthAdjust="spacingAndGlyphs" fill="#000">2 Jul 2020</text>
<line x1="818.3" y1="713" x2="818.3" y2="716.5" stroke="#000" stroke-width="1"/>
<text x="817.3" y="722.6" font-size="7.4" textLength="34.9" lengthAdjust="spacingAndGlyphs" fill="#000">14 Jul 2020</text>
<line x1="866.3" y1="713" x2="866.3" y2="716.5" stroke="#000" stroke-width="1"/>
<text x="865.3" y="722.6" font-size="7.4" textLength="34.9" lengthAdjust="spacingAndGlyphs" fill="#000">24 Jul 2020</text>
<line x1="914.3" y1="713" x2="914.3" y2="716.5" stroke="#000" stroke-width="1"/>
<text x="913.3" y="722.6" font-size="7.4" textLength="34.2" lengthAdjust="spacingAndGlyphs" fill="#000">5 Aug 2020</text>
<line x1="962.3" y1="713" x2="962.3" y2="716.5" stroke="#000" stroke-width="1"/>
<text x="961.3" y="722.6" font-size="7.4" textLength="37.9" lengthAdjust="spacingAndGlyphs" fill="#000">17 Aug 2020</text>
<line x1="1010.3" y1="713" x2="1010.3" y2="716.5" stroke="#000" stroke-width="1"/>
<text x="1009.3" y="722.6" font-size="7.4" textLength="37.9" lengthAdjust="spacingAndGlyphs" fill="#000">27 Aug 2020</text>
<line x1="1058.3" y1="713" x2="1058.3" y2="716.5" stroke="#000" stroke-width="1"/>
<text x="1057.3" y="722.6" font-size="7.4" textLength="34.5" lengthAdjust="spacingAndGlyphs" fill="#000">8 Sep 2020</text>
<line x1="1106.3" y1="713" x2="1106.3" y2="716.5" stroke="#000" stroke-width="1"/>
<text x="1105.3" y="722.6" font-size="7.4" textLength="38.3" lengthAdjust="spacingAndGlyphs" fill="#000">18 Sep 2020</text>
</svg></body></html>
